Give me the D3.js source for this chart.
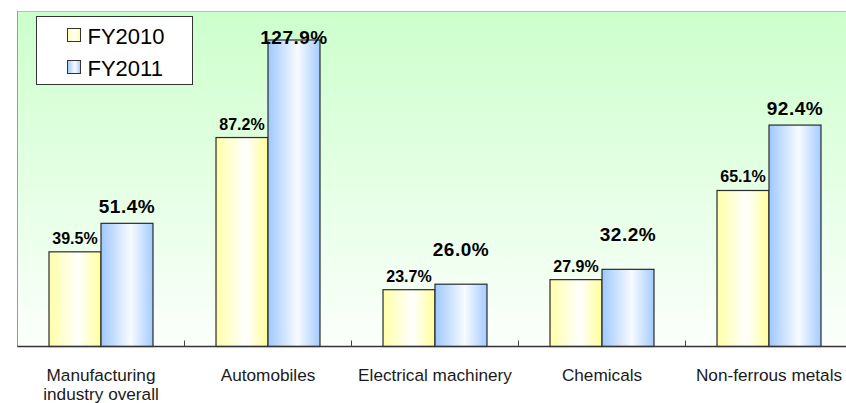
<!DOCTYPE html>
<html>
<head>
<meta charset="utf-8">
<script src="https://cdn.jsdelivr.net/npm/d3@7"></script>
<style>
  html, body { margin: 0; padding: 0; background: #ffffff; }
  svg { display: block; }
  text { font-family: "Liberation Sans", Arial, sans-serif; }
</style>
</head>
<body>
<div id="chart"></div>
<script>
// Category names (multi-line labels are split on "\n")
const categories = [
  "Manufacturing\nindustry overall",
  "Automobiles",
  "Electrical machinery",
  "Chemicals",
  "Non-ferrous metals"
];
const seriesNames = ["FY2010", "FY2011"];
const fy2010 = [39.5, 87.2, 23.7, 27.9, 65.1];
const fy2011 = [51.4, 127.9, 26.0, 32.2, 92.4];
const yMax = 140;

// Label lift above each bar top (px); a few labels are nudged to avoid clutter
const labelLift2010 = [8, 8, 8, 8, 8];
const labelLift2011 = [10, -4, 28, 28, 10];

const W = 846, H = 403;
const plot = { left: 17.5, right: 852.5, top: 11, bottom: 346.5 };

const svg = d3.select("#chart").append("svg")
  .attr("width", W).attr("height", H);

const defs = svg.append("defs");

const bg = defs.append("linearGradient").attr("id", "bgGrad")
  .attr("x1", 0).attr("y1", 0).attr("x2", 0).attr("y2", 1);
bg.append("stop").attr("offset", "0%").attr("stop-color", "#ccffcc");
bg.append("stop").attr("offset", "100%").attr("stop-color", "#fcfffc");

function barGradient(id, edgeL, mid, edgeR) {
  const g = defs.append("linearGradient").attr("id", id)
    .attr("x1", 0).attr("y1", 0).attr("x2", 1).attr("y2", 0);
  g.append("stop").attr("offset", "0%").attr("stop-color", edgeL);
  g.append("stop").attr("offset", "57%").attr("stop-color", mid);
  g.append("stop").attr("offset", "100%").attr("stop-color", edgeR);
}
barGradient("grad2010", "#ffffa8", "#ffffff", "#ffff99");
barGradient("grad2011", "#9ec8ff", "#f8fbff", "#a4ccff");
const fills = ["url(#grad2010)", "url(#grad2011)"];

// Plot area background
svg.append("rect")
  .attr("x", plot.left).attr("y", plot.top)
  .attr("width", plot.right - plot.left).attr("height", plot.bottom - plot.top)
  .attr("fill", "url(#bgGrad)");

// Plot border (left and top)
svg.append("line")
  .attr("x1", plot.left).attr("x2", plot.left)
  .attr("y1", plot.top).attr("y2", plot.bottom)
  .attr("stroke", "#9a9a9a").attr("stroke-width", 1).attr("shape-rendering", "crispEdges");
svg.append("line")
  .attr("x1", plot.left).attr("x2", plot.right)
  .attr("y1", plot.top + 0.5).attr("y2", plot.top + 0.5)
  .attr("stroke", "#b4c4b4").attr("stroke-width", 1).attr("shape-rendering", "crispEdges");

const x0 = d3.scaleBand().domain(categories).range([plot.left, plot.right])
  .paddingInner(0).paddingOuter(0);
const x1 = d3.scaleBand().domain(seriesNames).range([0, x0.bandwidth()])
  .paddingInner(0).paddingOuter(0.606);
const y = d3.scaleLinear().domain([0, yMax]).range([plot.bottom, plot.top]);

const rows = categories.map((c, i) => ({
  cat: c,
  vals: [
    { s: seriesNames[0], v: fy2010[i], lift: labelLift2010[i], k: 0 },
    { s: seriesNames[1], v: fy2011[i], lift: labelLift2011[i], k: 1 }
  ]
}));

const groups = svg.append("g").selectAll("g").data(rows).join("g")
  .attr("transform", d => `translate(${x0(d.cat)},0)`);

groups.selectAll("rect").data(d => d.vals).join("rect")
  .attr("x", d => x1(d.s))
  .attr("y", d => y(d.v))
  .attr("width", x1.bandwidth())
  .attr("height", d => y(0) - y(d.v))
  .attr("fill", d => fills[d.k])
  .attr("stroke", "#2a2a2a")
  .attr("stroke-width", 1.2);

groups.selectAll("text.val").data(d => d.vals).join("text")
  .attr("class", "val")
  .attr("x", d => x1(d.s) + x1.bandwidth() / 2)
  .attr("y", d => y(d.v) - d.lift)
  .attr("text-anchor", "middle")
  .attr("font-weight", "bold")
  .attr("font-size", d => d.k === 0 ? 16 : 19)
  .attr("letter-spacing", d => d.k === 0 ? 0 : 0.5)
  .attr("fill", "#000")
  .text(d => d.v.toFixed(1) + "%");

// Category axis
const xAxis = svg.append("g").attr("transform", `translate(0,${plot.bottom})`);
xAxis.append("line")
  .attr("x1", plot.left).attr("x2", plot.right)
  .attr("stroke", "#333").attr("stroke-width", 1.5);
xAxis.selectAll("line.tick").data(categories.slice(1)).join("line")
  .attr("class", "tick")
  .attr("x1", d => x0(d)).attr("x2", d => x0(d))
  .attr("y1", 0).attr("y2", -6)
  .attr("stroke", "#444").attr("stroke-width", 1);

const catLabels = xAxis.selectAll("text.cat").data(categories).join("text")
  .attr("class", "cat")
  .attr("x", d => x0(d) + x0.bandwidth() / 2)
  .attr("y", 34)
  .attr("text-anchor", "middle")
  .attr("font-size", 17.2)
  .attr("fill", "#1a1a1a");
catLabels.each(function (d) {
  const t = d3.select(this);
  d.split("\n").forEach((line, i) => {
    t.append("tspan")
      .attr("x", x0(d) + x0.bandwidth() / 2)
      .attr("dy", i === 0 ? 0 : 19)
      .text(line);
  });
});

// Legend
const legend = svg.append("g").attr("transform", "translate(36.5,16.5)");
legend.append("rect")
  .attr("width", 156).attr("height", 68)
  .attr("fill", "#ffffff").attr("stroke", "#333").attr("stroke-width", 1);
const items = legend.selectAll("g").data(seriesNames).join("g")
  .attr("transform", (d, i) => `translate(31,${12 + i * 32})`);
items.append("rect")
  .attr("width", 13).attr("height", 13)
  .attr("fill", (d, i) => fills[i])
  .attr("stroke", "#333").attr("stroke-width", 1);
items.append("text")
  .attr("x", 20).attr("y", 15)
  .attr("font-size", 22)
  .attr("fill", "#000")
  .text(d => d);
</script>
</body>
</html>
